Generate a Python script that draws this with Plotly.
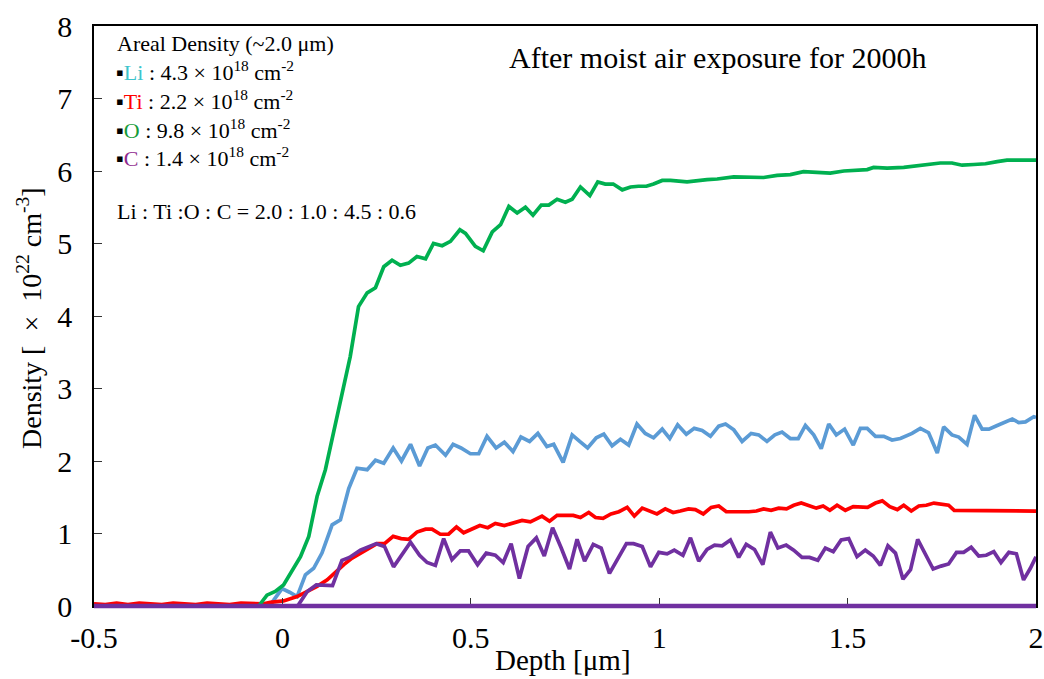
import plotly.graph_objects as go

# ---------------- data ----------------
o_depth = [-0.5, -0.063, -0.041, -0.019, 0.003, 0.026, 0.048, 0.070, 0.092, 0.114, 0.136, 0.158,
           0.180, 0.202, 0.225, 0.247, 0.269, 0.291, 0.313, 0.335, 0.357, 0.380, 0.401, 0.424,
           0.446, 0.471, 0.486, 0.512, 0.533, 0.557, 0.579, 0.601, 0.623, 0.645, 0.665, 0.687,
           0.707, 0.729, 0.751, 0.769, 0.791, 0.816, 0.837, 0.857, 0.878, 0.902, 0.924, 0.945,
           0.966, 0.985, 1.008, 1.030, 1.074, 1.127, 1.154, 1.198, 1.233, 1.277, 1.313, 1.348,
           1.383, 1.419, 1.454, 1.490, 1.525, 1.552, 1.569, 1.605, 1.649, 1.693, 1.746, 1.777,
           1.804, 1.835, 1.866, 1.897, 1.923, 1.993, 2.0]
o_density = [0, 0, 0.15, 0.20, 0.29, 0.50, 0.68, 0.96, 1.51, 1.88, 2.39, 2.89,
             3.44, 4.13, 4.32, 4.39, 4.68, 4.77, 4.70, 4.73, 4.82, 4.79, 5.00, 4.97,
             5.03, 5.19, 5.14, 4.96, 4.90, 5.16, 5.26, 5.51, 5.42, 5.50, 5.39, 5.53,
             5.53, 5.61, 5.57, 5.61, 5.78, 5.66, 5.85, 5.82, 5.82, 5.74, 5.78, 5.79,
             5.79, 5.82, 5.87, 5.87, 5.85, 5.88, 5.89, 5.92, 5.92, 5.91, 5.94, 5.95,
             5.99, 5.98, 5.97, 6.00, 6.01, 6.02, 6.05, 6.04, 6.05, 6.08, 6.11, 6.11,
             6.08, 6.09, 6.10, 6.13, 6.15, 6.15, 6.15]

li_depth = [-0.5, -0.035, -0.023, -0.001, 0.019, 0.039, 0.061, 0.083, 0.105, 0.132, 0.154, 0.176,
            0.198, 0.225, 0.247, 0.269, 0.294, 0.316, 0.340, 0.364, 0.386, 0.406, 0.433, 0.453,
            0.474, 0.499, 0.521, 0.543, 0.567, 0.589, 0.612, 0.633, 0.656, 0.678, 0.702, 0.720,
            0.745, 0.769, 0.789, 0.810, 0.833, 0.853, 0.875, 0.897, 0.919, 0.941, 0.963, 0.985,
            1.008, 1.028, 1.049, 1.072, 1.093, 1.114, 1.136, 1.158, 1.176, 1.198, 1.220, 1.244,
            1.264, 1.286, 1.307, 1.326, 1.348, 1.369, 1.388, 1.410, 1.430, 1.450, 1.470, 1.492,
            1.515, 1.534, 1.552, 1.574, 1.596, 1.618, 1.640, 1.671, 1.693, 1.715, 1.738, 1.755,
            1.777, 1.795, 1.817, 1.837, 1.857, 1.875, 1.897, 1.919, 1.937, 1.954, 1.972, 1.994, 2.0]
li_density = [0, 0, 0.08, 0.24, 0.19, 0.13, 0.43, 0.52, 0.73, 1.12, 1.19, 1.62,
              1.90, 1.88, 2.01, 1.97, 2.18, 2.00, 2.23, 1.93, 2.18, 2.22, 2.08, 2.23,
              2.18, 2.10, 2.10, 2.34, 2.18, 2.26, 2.13, 2.33, 2.27, 2.38, 2.20, 2.23,
              1.98, 2.36, 2.27, 2.18, 2.32, 2.37, 2.21, 2.30, 2.22, 2.51, 2.38, 2.32,
              2.44, 2.31, 2.50, 2.37, 2.45, 2.42, 2.34, 2.48, 2.51, 2.43, 2.27, 2.38,
              2.36, 2.27, 2.36, 2.40, 2.31, 2.31, 2.49, 2.36, 2.17, 2.51, 2.36, 2.44,
              2.22, 2.45, 2.45, 2.34, 2.34, 2.29, 2.31, 2.38, 2.45, 2.39, 2.11, 2.47,
              2.36, 2.33, 2.23, 2.63, 2.44, 2.44, 2.49, 2.54, 2.58, 2.53, 2.54, 2.61, 2.60]

ti_depth = [-0.5, -0.47, -0.44, -0.41, -0.38, -0.35, -0.32, -0.29, -0.26, -0.23, -0.2, -0.17,
            -0.14, -0.11, -0.08, -0.05, -0.032, 0.003, 0.039, 0.066, 0.092, 0.119, 0.141, 0.163,
            0.185, 0.207, 0.229, 0.251, 0.271, 0.294, 0.315, 0.335, 0.357, 0.380, 0.397, 0.419,
            0.441, 0.462, 0.481, 0.501, 0.524, 0.545, 0.565, 0.589, 0.612, 0.636, 0.658, 0.689,
            0.709, 0.729, 0.751, 0.772, 0.791, 0.813, 0.831, 0.851, 0.872, 0.893, 0.915, 0.934,
            0.955, 0.975, 0.994, 1.016, 1.037, 1.056, 1.078, 1.096, 1.117, 1.138, 1.158, 1.178,
            1.198, 1.217, 1.238, 1.258, 1.277, 1.297, 1.317, 1.338, 1.357, 1.377, 1.397, 1.417,
            1.435, 1.453, 1.472, 1.494, 1.515, 1.534, 1.553, 1.574, 1.592, 1.612, 1.632, 1.649,
            1.669, 1.689, 1.709, 1.729, 1.748, 1.768, 1.783, 1.807, 1.852, 1.897, 1.945, 2.0]
ti_density = [0.03, 0.02, 0.04, 0.02, 0.04, 0.03, 0.02, 0.04, 0.03, 0.02, 0.04, 0.03,
              0.02, 0.04, 0.03, 0.03, 0.05, 0.07, 0.13, 0.20, 0.27, 0.36, 0.47, 0.57,
              0.66, 0.73, 0.80, 0.86, 0.86, 0.96, 0.93, 0.92, 1.02, 1.06, 1.06, 0.99,
              0.99, 1.09, 1.01, 1.06, 1.11, 1.08, 1.14, 1.11, 1.15, 1.18, 1.16, 1.24,
              1.17, 1.25, 1.25, 1.25, 1.22, 1.29, 1.22, 1.21, 1.27, 1.30, 1.36, 1.24,
              1.35, 1.31, 1.27, 1.34, 1.29, 1.31, 1.34, 1.33, 1.27, 1.36, 1.38, 1.30,
              1.30, 1.29, 1.30, 1.31, 1.34, 1.32, 1.35, 1.34, 1.39, 1.42, 1.38, 1.35,
              1.38, 1.32, 1.39, 1.32, 1.37, 1.37, 1.36, 1.42, 1.45, 1.37, 1.33, 1.39,
              1.31, 1.38, 1.39, 1.42, 1.40, 1.39, 1.32, 1.32, 1.32, 1.32, 1.31, 1.31]

c_depth = [-0.5, 0.039, 0.043, 0.066, 0.090, 0.133, 0.158, 0.178, 0.207, 0.229, 0.249, 0.271,
           0.295, 0.340, 0.364, 0.384, 0.406, 0.428, 0.450, 0.472, 0.494, 0.518, 0.541, 0.565,
           0.586, 0.607, 0.629, 0.652, 0.674, 0.695, 0.717, 0.740, 0.762, 0.782, 0.802, 0.825,
           0.846, 0.868, 0.890, 0.913, 0.932, 0.955, 0.977, 0.999, 1.021, 1.040, 1.063, 1.083,
           1.105, 1.127, 1.147, 1.167, 1.189, 1.211, 1.231, 1.253, 1.275, 1.295, 1.315, 1.337,
           1.357, 1.379, 1.399, 1.421, 1.441, 1.462, 1.483, 1.503, 1.525, 1.547, 1.568, 1.587,
           1.607, 1.627, 1.647, 1.667, 1.686, 1.707, 1.727, 1.748, 1.768, 1.789, 1.808, 1.828,
           1.848, 1.868, 1.888, 1.907, 1.928, 1.948, 1.967, 1.985, 2.0]
c_density = [0, 0, 0.02, 0.20, 0.29, 0.28, 0.63, 0.67, 0.77, 0.82, 0.86, 0.82,
             0.54, 0.88, 0.70, 0.60, 0.56, 0.93, 0.64, 0.76, 0.76, 0.57, 0.73, 0.70,
             0.60, 0.86, 0.38, 0.82, 0.94, 0.69, 1.08, 0.80, 0.51, 0.92, 0.62, 0.85,
             0.80, 0.45, 0.64, 0.86, 0.86, 0.82, 0.54, 0.74, 0.72, 0.77, 0.70, 0.94,
             0.62, 0.78, 0.84, 0.83, 0.91, 0.67, 0.85, 0.78, 0.57, 1.02, 0.80, 0.84,
             0.77, 0.67, 0.67, 0.63, 0.80, 0.75, 0.91, 0.93, 0.68, 0.77, 0.69, 0.56,
             0.83, 0.73, 0.37, 0.50, 0.92, 0.72, 0.51, 0.55, 0.58, 0.74, 0.74, 0.81,
             0.69, 0.70, 0.75, 0.60, 0.74, 0.72, 0.36, 0.52, 0.68]

baseline_depth = [-0.5, 2.0]
baseline_density = [0, 0]

x_ticks = [-0.5, 0, 0.5, 1, 1.5, 2]
x_tick_text = ["-0.5", "0", "0.5", "1", "1.5", "2"]
y_ticks = [0, 1, 2, 3, 4, 5, 6, 7, 8]
y_range = [0, 8]

# ---------------- figure ----------------
FONT = "Liberation Serif, Times New Roman, serif"
LW = 3.7
PURPLE = "#7030A0"

W, H = 1044, 679
PL, PR, PT, PB = 94, 1036, 26, 606

fig = go.Figure()
fig.add_trace(go.Scatter(x=li_depth, y=li_density, mode="lines",
                         line=dict(color="#5B9BD5", width=LW), name="Li"))
fig.add_trace(go.Scatter(x=ti_depth, y=ti_density, mode="lines",
                         line=dict(color="#FF0000", width=LW), name="Ti"))
fig.add_trace(go.Scatter(x=c_depth, y=c_density, mode="lines",
                         line=dict(color=PURPLE, width=LW), name="C"))
fig.add_trace(go.Scatter(x=o_depth, y=o_density, mode="lines",
                         line=dict(color="#00B050", width=LW), name="O"))

# thick purple zero line along the bottom of the frame (paper-referenced in y so it is not clipped)
def dens_to_paper(v):
    return (v - y_range[0]) / (y_range[1] - y_range[0])

fig.add_shape(type="line", xref="x", yref="paper",
              x0=baseline_depth[0], x1=baseline_depth[-1],
              y0=dens_to_paper(baseline_density[0]), y1=dens_to_paper(baseline_density[-1]),
              line=dict(color=PURPLE, width=4.5), layer="above")

fig.update_layout(
    width=W, height=H,
    margin=dict(l=PL, r=W - PR, t=PT, b=H - PB, autoexpand=False),
    paper_bgcolor="white", plot_bgcolor="white",
    showlegend=False,
    font=dict(family=FONT, color="black"),
)
fig.update_xaxes(
    range=[-0.5, 2.0], tickvals=x_ticks, ticktext=x_tick_text,
    ticks="inside", ticklen=8, tickwidth=1, tickcolor="#333",
    showline=True, linecolor="black", linewidth=1.5, mirror=True,
    showgrid=False, zeroline=False, automargin=False,
    tickfont=dict(family=FONT, size=30, color="black"),
    ticklabelstandoff=4,
)
fig.update_yaxes(
    range=y_range, tickvals=y_ticks,
    ticks="inside", ticklen=8, tickwidth=1, tickcolor="#333",
    showline=True, linecolor="black", linewidth=1.5, mirror=True,
    showgrid=False, zeroline=False, automargin=False,
    tickfont=dict(family=FONT, size=30, color="black"),
    ticklabelstandoff=14,
)

def px_x(p):
    return (p - PL) / float(PR - PL)

def px_y(p):
    return (PB - p) / float(PB - PT)

ann = []
ann.append(dict(text="Depth [μm]", x=px_x(563), y=px_y(660), xref="paper", yref="paper",
                xanchor="center", yanchor="middle", showarrow=False,
                font=dict(family=FONT, size=29, color="black")))
ann.append(dict(text="Density [\u2002×\u200210<sup>22</sup> cm<sup>-3</sup>]", x=px_x(29),
                y=px_y(318), xref="paper", yref="paper", textangle=-90,
                xanchor="center", yanchor="middle", showarrow=False,
                font=dict(family=FONT, size=28, color="black")))
ann.append(dict(text="After moist air exposure for 2000h", x=px_x(507), y=px_y(57),
                xref="paper", yref="paper", xanchor="left", yanchor="middle", showarrow=False,
                font=dict(family=FONT, size=30, color="black")))
ann.append(dict(text="Areal Density (~2.0 μm)", x=px_x(115), y=px_y(44),
                xref="paper", yref="paper", xanchor="left", yanchor="middle", showarrow=False,
                font=dict(family=FONT, size=22, color="black")))

legend_rows = [
    ("Li", "#3CC4CC", "4.3", 71),
    ("Ti", "#FF0000", "2.2", 100),
    ("O", "#169C3A", "9.8", 129),
    ("C", "#8E2A8E", "1.4", 157),
]
for sym, col, val, ypx in legend_rows:
    txt = ("▪<span style='color:%s'>%s</span> : %s × 10<sup>18</sup> cm<sup>-2</sup>"
           % (col, sym, val))
    ann.append(dict(text=txt, x=px_x(114), y=px_y(ypx), xref="paper", yref="paper",
                    xanchor="left", yanchor="middle", showarrow=False,
                    font=dict(family=FONT, size=22, color="black")))

ann.append(dict(text="Li : Ti :O : C = 2.0 : 1.0 : 4.5 : 0.6", x=px_x(115), y=px_y(212),
                xref="paper", yref="paper", xanchor="left", yanchor="middle", showarrow=False,
                font=dict(family=FONT, size=22, color="black")))
fig.update_layout(annotations=ann)

# remove the browser's default 8px page margin so the figure fills the window exactly
fig.write_html("out.html", config={"displayModeBar": False},
               post_script="document.body.style.margin='0';document.body.style.overflow='hidden';")
